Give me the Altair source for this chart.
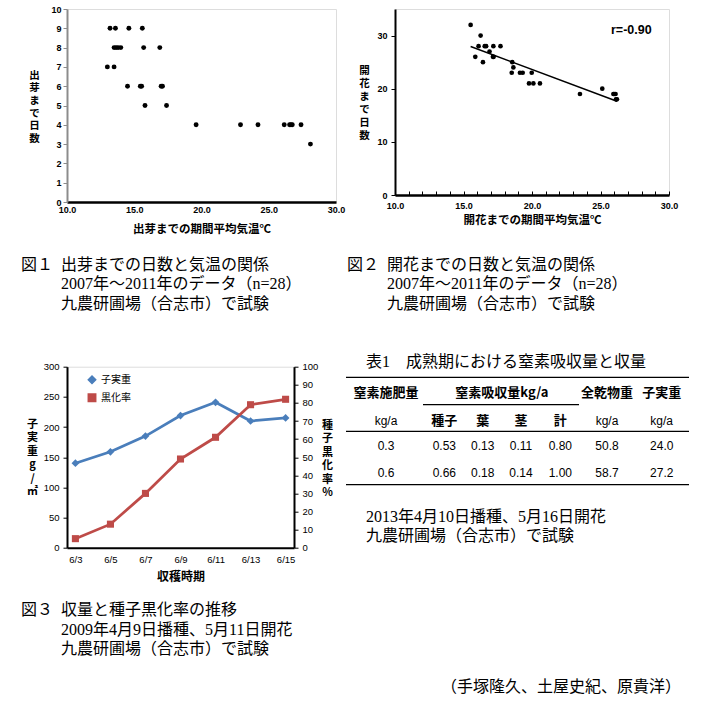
import altair as alt
import pandas as pd

# ---------------- data ----------------
# Fig.1  出芽までの日数と気温
f1_temp = [13.2, 13.6, 14.6, 15.6,
           13.5, 13.65, 13.8, 14.0, 15.7, 16.9,
           13.0, 13.5,
           14.5, 15.45, 15.55, 17.0, 17.1,
           15.8, 17.4,
           19.6, 22.9, 24.2, 26.15, 26.55, 26.65, 26.75, 27.4,
           28.1]
f1_days = [9, 9, 9, 9,
           8, 8, 8, 8, 8, 8,
           7, 7,
           6, 6, 6, 6, 6,
           5, 5,
           4, 4, 4, 4, 4, 4, 4, 4,
           3]

# Fig.2  開花までの日数と気温
f2_temp = [15.52, 16.25, 16.1, 16.55, 16.65, 17.18, 17.7, 15.86, 16.42, 16.9,
           17.15, 17.2, 18.56, 18.64, 18.52, 19.12, 19.32, 19.98, 19.78, 20.1,
           20.58, 23.5, 25.13, 25.94, 26.1, 26.13, 26.2, 26.0]
f2_days = [32, 30, 28, 28, 28, 28, 28, 26, 25, 27,
           26, 26, 25, 24, 23, 23, 23, 23, 21, 21,
           21, 19, 20, 19, 19, 18, 18, 19]
f2_r_text = "r=-0.90"

# Fig.3  収量と種子黒化率の推移
f3_dates = ["6/3", "6/5", "6/7", "6/9", "6/11", "6/13", "6/15"]
f3_yield = [140, 159, 185, 219, 241, 210, 215]
f3_black = [5, 13, 30, 49, 61, 79, 82]
f3_series = ["子実重", "黒化率"]

# Table 1
t1_title = "表1　成熟期における窒素吸収量と収量"
t1_head1 = ["窒素施肥量", "窒素吸収量kg/a", "全乾物重", "子実重"]
t1_head2 = ["kg/a", "種子", "葉", "茎", "計", "kg/a", "kg/a"]
t1_row1 = ["0.3", "0.53", "0.13", "0.11", "0.80", "50.8", "24.0"]
t1_row2 = ["0.6", "0.66", "0.18", "0.14", "1.00", "58.7", "27.2"]
t1_notes = ["2013年4月10日播種、5月16日開花", "九農研圃場（合志市）で試験"]
authors = "（手塚隆久、土屋史紀、原貴洋）"

IND = "\u200b\u3000\u3000\u2002"
cap1 = ["図１\u2002出芽までの日数と気温の関係", IND + "2007年～2011年のデータ（n=28）", IND + "九農研圃場（合志市）で試験"]
cap2 = ["図２\u2002開花までの日数と気温の関係", IND + "2007年～2011年のデータ（n=28）", IND + "九農研圃場（合志市）で試験"]
cap3 = ["図３\u2002収量と種子黒化率の推移", IND + "2009年4月9日播種、5月11日開花", IND + "九農研圃場（合志市）で試験"]

f1_xtitle = "出芽までの期間平均気温℃"
f1_ytitle = ["出", "芽", "ま", "で", "日", "数"]
f2_xtitle = "開花までの期間平均気温℃"
f2_ytitle = ["開", "花", "ま", "で", "日", "数"]
f3_xtitle = "収穫時期"
f3_ytitle_l = ["子", "実", "重", "g", "/", "㎡"]
f3_ytitle_r = ["種", "子", "黒", "化", "率", "%"]

# ---------------- styles ----------------
SANS = "Liberation Sans"
JP = "Noto Sans CJK JP"
SERIF = "Liberation Serif, Noto Sans CJK JP"
BLUE = "#4A7EBB"
RED = "#BE4B48"
NOVIEW = alt.ViewBackground(stroke="white", strokeWidth=0, strokeOpacity=0, fill="white")


def caption(lines, dx, offset):
    return alt.TitleParams(text=lines, orient="bottom", anchor="start", frame="group",
                           dx=dx, offset=offset, font=SERIF, fontSize=16,
                           fontWeight="normal", color="black", lineHeight=19.5,
                           baseline="top")


def xaxis(title, values, fmt, pad, ty, dw=2.5):
    return alt.Axis(values=values, format=fmt, title=title, labelFont=SANS,
                    labelFontWeight="bold", labelFontSize=9, labelColor="black",
                    labelPadding=pad, labelFlush=False, ticks=False, domainColor="black",
                    domainWidth=dw, titleFont=JP, titleFontSize=11.5, titleFontWeight="bold",
                    titleColor="black", titleY=ty, titleBaseline="middle", grid=False)


def yaxis(title, values, tx, ty, lh, dcol="black", pad=2, tsize=4):
    return alt.Axis(values=values, title=title, titleAngle=0, titleX=tx, titleY=ty,
                    titleBaseline="top", titleAlign="center", titleLineHeight=lh,
                    titleFont=JP, titleFontSize=10.5, titleFontWeight="bold", titleColor="black",
                    labelFont=SANS, labelFontWeight="bold", labelFontSize=9,
                    labelColor="black", labelPadding=pad, domainColor=dcol, domainWidth=2,
                    tickColor=dcol, tickSize=tsize, grid=False)


# ---------------- Fig.1 ----------------
df1 = pd.DataFrame({"t": f1_temp, "d": f1_days})
fig1 = alt.Chart(df1).mark_circle(size=24, color="black", opacity=1).encode(
    x=alt.X("t:Q", scale=alt.Scale(domain=[10, 30], nice=False, zero=False),
            axis=xaxis(f1_xtitle, [10, 15, 20, 25, 30], ".1f", 3, 27)),
    y=alt.Y("d:Q", scale=alt.Scale(domain=[0, 10], nice=False),
            axis=yaxis(f1_ytitle, list(range(11)), -33, 61, 12.7, dcol="#8c8c8c")),
).properties(width=269, height=193, title=caption(cap1, -46, 22))

# ---------------- Fig.2 ----------------
df2 = pd.DataFrame({"t": f2_temp, "d": f2_days})
xs2 = alt.Scale(domain=[10, 30], nice=False, zero=False)
ys2 = alt.Scale(domain=[0, 35], nice=False)
pts2 = alt.Chart(df2).mark_circle(size=22, color="black", opacity=1).encode(
    x=alt.X("t:Q", scale=xs2, axis=xaxis(f2_xtitle, [10, 15, 20, 25, 30], ".1f", 6.5, 25)),
    y=alt.Y("d:Q", scale=ys2,
            axis=yaxis(f2_ytitle, list(range(0, 36, 5)), -31, 56, 13, pad=4)),
)
reg2 = alt.Chart(df2).transform_regression("t", "d").mark_line(
    color="black", strokeWidth=1.5).encode(
    x=alt.X("t:Q", scale=xs2,
            axis=alt.Axis(values=list(range(10, 31)), labels=False, domain=False,
                          tickSize=4, tickColor="black", tickWidth=1, title=None,
                          offset=-4, orient="bottom", grid=False)),
    y=alt.Y("d:Q", scale=ys2),
)
rtxt = alt.Chart(pd.DataFrame({"label": [f2_r_text]})).mark_text(
    font=SANS, fontSize=12.5, fontWeight="bold", color="black", align="left",
    baseline="middle").encode(text="label:N", x=alt.value(216), y=alt.value(21))
fig2 = alt.layer(pts2, reg2, rtxt).resolve_axis(x="independent").properties(
    width=274, height=186, title=caption(cap2, -48, 31))

# ---------------- Fig.3 ----------------
df3a = pd.DataFrame({"date": f3_dates, "v": f3_yield, "s": f3_series[0]})
df3b = pd.DataFrame({"date": f3_dates, "v": f3_black, "s": f3_series[1]})
leg = alt.Legend(title=None, orient="none", legendX=20, legendY=8, labelFont=JP,
                 labelFontSize=10, labelColor="black", symbolSize=55, rowPadding=4,
                 direction="vertical")
xenc = alt.X("date:N", sort=f3_dates, scale=alt.Scale(type="point", padding=0.24),
             axis=alt.Axis(labelAngle=0, labelFont=SANS, labelFontSize=9.5,
                           labelColor="black", labelPadding=7, ticks=False,
                           domainColor="black", domainWidth=2, title=f3_xtitle,
                           titleFont=JP, titleFontSize=12, titleFontWeight="bold",
                           titleColor="black", titleY=28.3, titleBaseline="middle"))
cenc = alt.Color("s:N", scale=alt.Scale(domain=f3_series, range=[BLUE, RED]), legend=leg)
senc = alt.Shape("s:N", scale=alt.Scale(domain=f3_series, range=["diamond", "square"]),
                 legend=leg)


def yax3(title, values, tx, ty, orient):
    return alt.Axis(values=values, title=title, titleAngle=0, titleX=tx, titleY=ty,
                    titleBaseline="top", titleAlign="center", titleLineHeight=13.5,
                    titleFont=JP, titleFontSize=11, titleFontWeight="bold",
                    titleColor="black", labelFont=SANS, labelFontSize=9.5,
                    labelColor="black", labelPadding=4, domainColor="black",
                    domainWidth=2, tickColor="black", tickSize=4, grid=False,
                    orient=orient)


yl = alt.Y("v:Q", scale=alt.Scale(domain=[0, 300], nice=False),
           axis=yax3(f3_ytitle_l, list(range(0, 301, 50)), -35, 51.5, "left"))
yr = alt.Y("v:Q", scale=alt.Scale(domain=[0, 100], nice=False),
           axis=yax3(f3_ytitle_r, list(range(0, 101, 10)), 33, 52.3, "right"))
blue = alt.layer(
    alt.Chart(df3a).mark_line(strokeWidth=2.75).encode(x=xenc, y=yl, color=cenc),
    alt.Chart(df3a).mark_point(filled=True, size=60, opacity=1).encode(
        x=xenc, y=yl, color=cenc, shape=senc),
)
red = alt.layer(
    alt.Chart(df3b).mark_line(strokeWidth=2.75).encode(x=xenc, y=yr, color=cenc),
    alt.Chart(df3b).mark_point(filled=True, size=50, opacity=1).encode(
        x=xenc, y=yr, color=cenc, shape=senc),
)
fig3 = alt.layer(blue, red).resolve_scale(y="independent").properties(
    width=227, height=181, title=caption(cap3, -46, 20))

# ---------------- Table 1 ----------------
col_px = [-9, 49.3, 87.7, 126, 165.3, 212, 266.7]
row_px = [-4.7, 10.6, 26.3, 38, 54, 64.6, 79.6, 106.6, 118, 150, 169, 320.3]
xt = alt.X("col:Q", scale=alt.Scale(domain=list(range(7)), range=col_px, zero=False,
                                    nice=False), axis=None)
yt = alt.Y("row:Q", scale=alt.Scale(domain=list(range(12)), range=row_px, zero=False,
                                    nice=False), axis=None)

jp_cells, num_cells = [], []
for c, txt in zip([0, 2.5, 5, 6], t1_head1):
    jp_cells.append({"col": c, "row": 2, "text": txt})
for c, txt in enumerate(t1_head2):
    (num_cells if txt == "kg/a" else jp_cells).append({"col": c, "row": 4, "text": txt})
for r, vals in ((6, t1_row1), (7, t1_row2)):
    for c, txt in enumerate(vals):
        num_cells.append({"col": c, "row": r, "text": txt})

t_jp = alt.Chart(pd.DataFrame(jp_cells)).mark_text(
    font=JP, fontSize=13, fontWeight="bold", color="black", baseline="middle").encode(
    x=xt, y=yt, text="text:N")
t_num = alt.Chart(pd.DataFrame(num_cells)).mark_text(
    font=SANS, fontSize=12, color="black", baseline="middle").encode(
    x=xt, y=yt, text="text:N")
t_rules = alt.Chart(pd.DataFrame({"row": [1, 5, 8]})).mark_rule(
    color="black", strokeWidth=1.3).encode(y=yt, x=alt.value(-49), x2=alt.value(294))
t_sub = alt.Chart(pd.DataFrame({"row": [3]})).mark_rule(
    color="black", strokeWidth=1.3).encode(y=yt, x=alt.value(28), x2=alt.value(184))
t_free = alt.Chart(pd.DataFrame({"row": [0, 9, 10], "text": [t1_title] + t1_notes})).mark_text(
    font=SERIF, fontSize=16, color="black", align="left", baseline="middle").encode(
    y=yt, x=alt.value(-29), text="text:N")
t_auth = alt.Chart(pd.DataFrame({"row": [11], "text": [authors]})).mark_text(
    font=SERIF, fontSize=16, color="black", align="right", baseline="middle").encode(
    y=yt, x=alt.value(286), text="text:N")
table = alt.layer(t_rules, t_sub, t_jp, t_num, t_free, t_auth).properties(
    width=290, height=181, view=NOVIEW)

chart = alt.concat(
    fig1, fig2, fig3, table, columns=2,
    spacing={"row": 164.7, "column": 59}, bounds="flush",
    padding={"left": 20, "top": 4, "right": 5, "bottom": 2},
).resolve_scale(color="independent", shape="independent").configure_view(
    stroke=None, strokeWidth=0).configure(background="white")

chart.save("out.html", embed_options={"renderer": "svg", "actions": False})
